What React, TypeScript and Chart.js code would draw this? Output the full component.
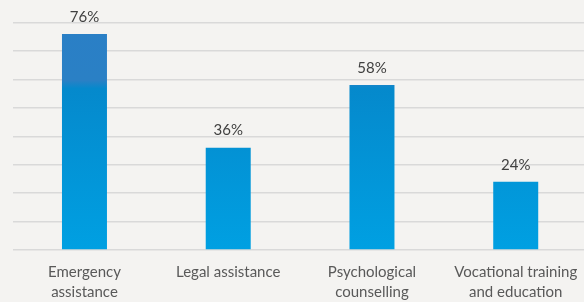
import React, { useEffect, useRef } from "react";
import { Chart, registerables } from "chart.js";

Chart.register(...registerables);

const categories: string[][] = [
  ["Emergency", "assistance"],
  ["Legal assistance"],
  ["Psychological", "counselling"],
  ["Vocational training", "and education"],
];
const values: number[] = [76, 36, 58, 24];
const yMax = 80;
const yStep = 10;

const FONT = "Lato, 'Open Sans', sans-serif";

const dataLabelPlugin = {
  id: "dataLabels",
  afterDatasetsDraw(chart: any) {
    const { ctx } = chart;
    const meta = chart.getDatasetMeta(0);
    ctx.save();
    ctx.fillStyle = "#404040";
    ctx.font = `15px ${FONT}`;
    ctx.textAlign = "center";
    ctx.textBaseline = "middle";
    meta.data.forEach((bar: any, i: number) => {
      ctx.fillText(`${values[i]}%`, bar.x, bar.y - 17);
    });
    ctx.restore();
  },
};

export default function App() {
  const ref = useRef<HTMLCanvasElement | null>(null);
  useEffect(() => {
    document.body.style.margin = "0";
    document.body.style.overflow = "hidden";
    document.body.style.background = "#f4f3f1";
    const canvas = ref.current!;
    const chart = new Chart(canvas, {
      type: "bar",
      data: {
        labels: categories,
        datasets: [
          {
            data: values,
            backgroundColor: (c: any) => {
              const area = c.chart.chartArea;
              if (!area) return "#0098dc";
              const g = c.chart.ctx.createLinearGradient(0, area.top, 0, area.bottom);
              g.addColorStop(0, "#2a7fc6");
              g.addColorStop(0.255, "#2a80c5");
              g.addColorStop(0.29, "#0589cc");
              g.addColorStop(1, "#00a0e2");
              return g;
            },
            borderWidth: 0,
            categoryPercentage: 1,
            barPercentage: 0.313,
          },
        ],
      },
      options: {
        animation: false,
        responsive: true,
        maintainAspectRatio: false,
        layout: { padding: { left: 12.6, right: 4.4, top: 22.5, bottom: 0 } },
        plugins: { legend: { display: false }, tooltip: { enabled: false } },
        scales: {
          x: {
            grid: { display: false, drawTicks: false },
            border: { display: false },
            ticks: {
              color: "#595959",
              font: { family: FONT, size: 15, lineHeight: 1.33 },
              padding: 12,
              maxRotation: 0,
              autoSkip: false,
            },
            afterFit: (s: any) => {
              s.height = 52;
            },
          },
          y: {
            min: 0,
            max: yMax,
            ticks: { display: false, stepSize: yStep },
            grid: { color: "#d9d9d9", lineWidth: 1.5, drawTicks: false },
            border: { display: false },
            afterFit: (s: any) => {
              s.width = 0;
            },
          },
        },
      },
      plugins: [dataLabelPlugin],
    });
    return () => chart.destroy();
  }, []);
  return (
    <div style={{ position: "absolute", left: 0, top: 0, width: 592, height: 302, background: "#f4f3f1" }}>
      <canvas ref={ref} />
    </div>
  );
}
